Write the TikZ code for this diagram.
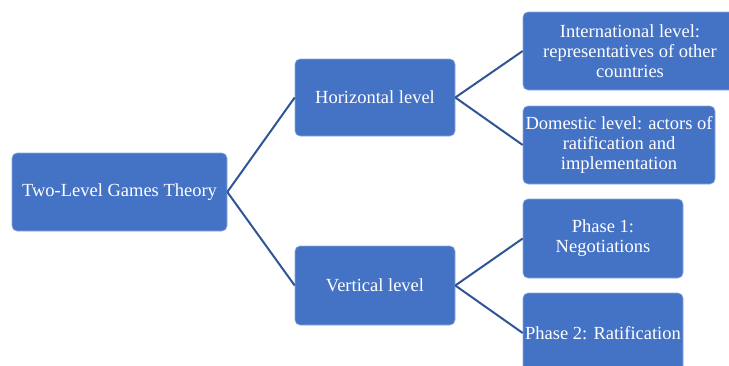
\documentclass[tikz,border=0pt]{standalone}
\usepackage{fontspec}
\setmainfont{Liberation Serif}
\definecolor{boxfill}{HTML}{4472C4}
\definecolor{boxline}{HTML}{8FAADC}
\definecolor{linkblue}{HTML}{2F5597}
\begin{document}
\begin{tikzpicture}[x=1pt,y=-1pt,
  box/.style={draw=boxline, fill=boxfill, rounded corners=5pt, text=white,
    align=center, inner sep=2pt, line width=0.6pt,
    font=\fontsize{18.5}{20}\selectfont},
  link/.style={draw=linkblue, line width=2pt}]
\useasboundingbox (0,0) rectangle (729,365);
\clip (0,0) rectangle (729,365);

\node[box, minimum width=215pt, minimum height=78pt] (theory) at (119.5,192) {Two-Level Games Theory};
\node[box, minimum width=160pt, minimum height=77pt] (horiz) at (375,97.5) {Horizontal level};
\node[box, minimum width=160pt, minimum height=79pt] (vert) at (375,285.5) {Vertical level};
\node[box, minimum width=214pt, minimum height=78pt] (intl) at (630,51) {International level:\\representatives of other\\countries};
\node[box, minimum width=192pt, minimum height=78pt] (dom) at (619,145) {Domestic level: actors of\\ratification and\\implementation};
\node[box, minimum width=160pt, minimum height=79pt] (ph1) at (603,238.5) {Phase 1:\\Negotiations};
\node[box, minimum width=160pt, minimum height=80pt] (ph2) at (603,333) {Phase 2: Ratification};

\path[link] (theory.east) -- (horiz.west);
\path[link] (theory.east) -- (vert.west);
\path[link] (horiz.east) -- (intl.west);
\path[link] (horiz.east) -- (dom.west);
\path[link] (vert.east) -- (ph1.west);
\path[link] (vert.east) -- (ph2.west);

\end{tikzpicture}
\end{document}
